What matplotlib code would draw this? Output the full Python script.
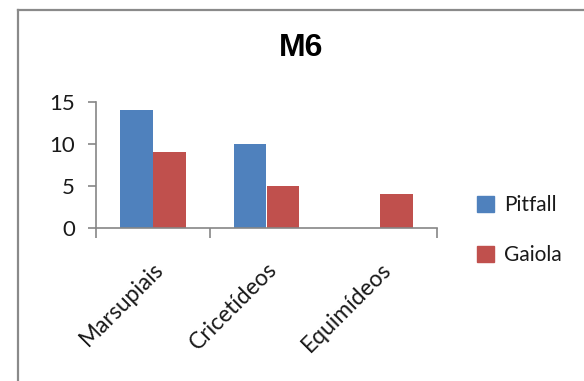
import matplotlib
matplotlib.use("Agg")
import matplotlib.pyplot as plt
from matplotlib.lines import Line2D
from matplotlib.patches import Patch
import numpy as np

categories = ["Marsupiais", "Cricetídeos", "Equimídeos"]
pitfall = [14, 10, 0]
gaiola = [9, 5, 4]
series_names = ["Pitfall", "Gaiola"]
yticks = [0, 5, 10, 15]
title = "M6"

BLUE = "#4F81BD"
RED = "#C0504D"
AXC = "#868686"
TXT = "#1a1a1a"
W, H = 584, 381

fig = plt.figure(figsize=(W / 100, H / 100), dpi=100)
fig.patch.set_facecolor("white")

# outer chart border (left and top visible)
fig.add_artist(Line2D([17.5 / W, 17.5 / W], [0, 1 - 10 / H], transform=fig.transFigure,
                      color="#8a8a8a", lw=1.6))
fig.add_artist(Line2D([17.5 / W, 1], [1 - 10 / H, 1 - 10 / H], transform=fig.transFigure,
                      color="#8a8a8a", lw=1.6))

left, right = 96 / W, 437 / W
bottom, top = 1 - 228 / H, 1 - 102 / H
ax = fig.add_axes([left, bottom, right - left, top - bottom])

x = np.arange(len(categories))
bw = 0.29
ax.bar(x - bw / 2, pitfall, width=bw, color=BLUE, label=series_names[0], zorder=2)
ax.bar(x + bw / 2, gaiola, width=bw, color=RED, label=series_names[1], zorder=2)

ax.set_xlim(-0.5, len(categories) - 0.5)
ax.set_ylim(0, 15)
ax.set_yticks(yticks)
ax.set_yticklabels([str(v) for v in yticks], fontfamily="Lato", fontsize=16, color=TXT)

for s in ["top", "right"]:
    ax.spines[s].set_visible(False)
for s in ["left", "bottom"]:
    ax.spines[s].set_color(AXC)
    ax.spines[s].set_linewidth(1.2)

ax.tick_params(axis="y", direction="out", length=6, width=1.2, color=AXC, pad=9)
# major ticks between categories
ax.set_xticks([-0.5, 0.5, 2.5])
ax.set_xticklabels([])
ax.tick_params(axis="x", which="major", direction="out", length=7, width=1.2, color=AXC)
ax.set_xticks(x, minor=True)
ax.set_xticklabels(categories, minor=True, rotation=45, ha="right", va="top",
                   rotation_mode="anchor", fontfamily="Lato", fontsize=16.5, color=TXT)
ax.tick_params(axis="x", which="minor", length=0, pad=22)

fig.text(301 / W, 1 - 48 / H, title, ha="center", va="center",
         fontfamily="Liberation Sans", fontweight="bold", fontsize=23)

handles = [Patch(color=BLUE), Patch(color=RED)]
leg = fig.legend(handles, series_names, loc="center left",
                 bbox_to_anchor=(477 / W, 1 - 230 / H), frameon=False, borderpad=0,
                 borderaxespad=0,
                 prop={"family": "Lato", "size": 15}, handlelength=0.8, handleheight=0.8,
                 handletextpad=0.5, labelspacing=1.45)
for t in leg.get_texts():
    t.set_color(TXT)

fig.savefig("out.png", dpi=100, facecolor="white")
